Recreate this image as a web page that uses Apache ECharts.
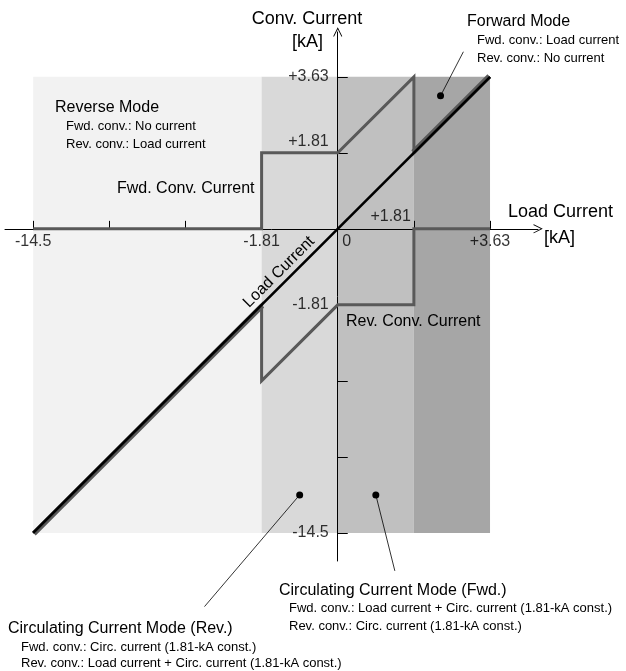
<!DOCTYPE html>
<html>
<head>
<meta charset="utf-8">
<script src="https://cdn.jsdelivr.net/npm/echarts@6/dist/echarts.min.js"></script>
<style>
  html, body { margin: 0; padding: 0; background: #fff; }
  #chart { width: 626px; height: 671px; }
</style>
</head>
<body>
<div id="chart"></div>
<script>
// Schematic scale: one axis step = 1.81 kA (the far end is an axis break labelled 14.5 kA).
const xTickValues = [-4, -3, -2, -1, 1, 2];
const yTickValues = [2, 1, -1, -2, -3, -4];
const xLabelValues = [-4, -1, 0, 1, 2];
const xLabelTexts = ['-14.5', '-1.81', '0', '+1.81', '+3.63'];
const yLabelValues = [2, 1, -1, -4];
const yLabelTexts = ['+3.63', '+1.81', '-1.81', '-14.5'];

// Operating-mode bands along the load-current axis (reverse, circ. rev, circ. fwd, forward)
const modeBandsX = [[-4, -1], [-1, 0], [0, 1], [1, 2]];
const modeBandY = [-4, 2];

// Currents, in axis steps
const loadCurrent = [[-4, -4], [2, 2]];
const fwdConvCurrent = [[-4, 0], [-1, 0], [-1, 1], [0, 1], [1, 2], [1, 1], [2, 2]];
const revConvCurrent = [[2, 0], [1, 0], [1, -1], [0, -1], [-1, -2], [-1, -1], [-4, -4]];

// Callout anchors: [dot, leader end]
const calloutForward = [[1.35, 1.75], [1.65, 2.33]];
const calloutCircRev = [[-0.5, -3.5], [-1.75, -4.97]];
const calloutCircFwd = [[0.5, -3.5], [0.75, -4.5]];

const FONT = 'Liberation Sans, Arial, Helvetica, sans-serif';
const bandColors = ['#f2f2f2', '#d9d9d9', '#c0c0c0', '#a6a6a6'];
const convColor = '#595959';
const arrowPath = 'path://M0,10 L5,0 L10,10 L9.2,10.6 L5,2.2 L0.8,10.6 Z';

const chart = echarts.init(document.getElementById('chart'), null, { renderer: 'canvas' });

function callout(anchor) {
  return {
    type: 'line',
    z: 6,
    clip: false,
    silent: true,
    lineStyle: { color: '#000', width: 0.8 },
    data: [
      { value: anchor[0], symbol: 'circle', symbolSize: 7, itemStyle: { color: '#000' } },
      { value: anchor[1], symbol: 'none' }
    ]
  };
}

// Tick-value labels placed at their axis positions
const baseLabel = { show: true, color: '#000', fontFamily: FONT, fontSize: 16 };
const xLabelData = xLabelValues.map((v, i) => {
  let label;
  if (v === 0) label = Object.assign({}, baseLabel, { position: 'bottom', distance: 5, offset: [9, 0] });
  else if (v === 1) label = Object.assign({}, baseLabel, { position: 'left', distance: 3, offset: [0, -12] });
  else label = Object.assign({}, baseLabel, { position: 'bottom', distance: 5 });
  label.formatter = xLabelTexts[i];
  return { value: [v, 0], label: label };
});
const yLabelData = yLabelValues.map((v, i) => {
  const label = Object.assign({}, baseLabel, { position: 'left', distance: 9 });
  if (v === 1) label.offset = [0, -11];
  label.formatter = yLabelTexts[i];
  return { value: [0, v], label: label };
});

const text = (t, left, cy, size, align) => ({
  type: 'text',
  x: left, y: cy,
  z: 20,
  style: { text: t, fill: '#000', font: size + 'px ' + FONT, verticalAlign: 'middle', align: align || 'left' }
});

chart.setOption({
  animation: false,
  backgroundColor: '#fff',
  grid: { left: 5, right: 88, top: 32, bottom: 110, containLabel: false, outerBoundsMode: 'none' },
  xAxis: {
    type: 'value', min: -4.37, max: 2.63, z: 1,
    splitLine: { show: false },
    axisLine: { onZero: true, lineStyle: { color: '#000', width: 1 },
      symbol: ['none', arrowPath], symbolSize: [9, 10] },
    axisTick: { show: true, inside: true, length: 8, customValues: xTickValues,
      lineStyle: { color: '#000', width: 1 } },
    axisLabel: { show: false }
  },
  yAxis: {
    type: 'value', min: -4.37, max: 2.59, z: 1,
    splitLine: { show: false },
    axisLine: { onZero: true, lineStyle: { color: '#000', width: 1 },
      symbol: ['none', arrowPath], symbolSize: [9, 10] },
    axisTick: { show: true, inside: true, length: 10, customValues: yTickValues,
      lineStyle: { color: '#000', width: 1 } },
    axisLabel: { show: false }
  },
  series: [
    {
      name: 'Mode bands',
      type: 'line', z: 0, data: [], silent: true,
      markArea: {
        silent: true,
        data: modeBandsX.map((b, i) => [
          { xAxis: b[0], yAxis: modeBandY[0], itemStyle: { color: bandColors[i], opacity: 1 } },
          { xAxis: b[1], yAxis: modeBandY[1] }
        ])
      }
    },
    {
      name: 'Fwd. Conv. Current',
      type: 'line', z: 3, symbol: 'none', silent: true,
      lineStyle: { color: convColor, width: 3, join: 'miter' },
      data: fwdConvCurrent
    },
    {
      name: 'Fwd. Conv. Current (along load)',
      type: 'line', z: 3, symbol: 'none', silent: true,
      lineStyle: { color: convColor, width: 3, shadowColor: convColor, shadowBlur: 0,
        shadowOffsetX: -1.5, shadowOffsetY: -1.5 },
      data: fwdConvCurrent.slice(5)
    },
    {
      name: 'Rev. Conv. Current',
      type: 'line', z: 3, symbol: 'none', silent: true,
      lineStyle: { color: convColor, width: 3, join: 'miter' },
      data: revConvCurrent
    },
    {
      name: 'Rev. Conv. Current (along load)',
      type: 'line', z: 3, symbol: 'none', silent: true,
      lineStyle: { color: convColor, width: 3, shadowColor: convColor, shadowBlur: 0,
        shadowOffsetX: 1.5, shadowOffsetY: 1.5 },
      data: revConvCurrent.slice(5)
    },
    {
      name: 'Load Current',
      type: 'line', z: 4, symbol: 'none', silent: true,
      lineStyle: { color: '#000', width: 2.6 },
      data: loadCurrent
    },
    {
      name: 'Load axis labels',
      type: 'scatter', z: 8, symbolSize: 0, silent: true, clip: false,
      data: xLabelData
    },
    {
      name: 'Conv axis labels',
      type: 'scatter', z: 8, symbolSize: 0, silent: true, clip: false,
      data: yLabelData
    },
    callout(calloutForward),
    callout(calloutCircRev),
    callout(calloutCircFwd)
  ],
  graphic: [
    text('Conv. Current', 307, 19, 18, 'center'),
    text('[kA]', 323, 42, 18, 'right'),
    text('Load Current', 508, 212, 18),
    text('[kA]', 544, 238, 18),

    text('Forward Mode', 467, 22, 16),
    text('Fwd. conv.: Load current', 477, 40, 13),
    text('Rev. conv.: No current', 477, 58, 13),

    text('Reverse Mode', 55, 108, 16),
    text('Fwd. conv.: No current', 66, 126, 13),
    text('Rev. conv.: Load current', 66, 144, 13),

    text('Fwd. Conv. Current', 117, 189, 16),
    text('Rev. Conv. Current', 346, 322, 16),

    {
      type: 'text', x: 279, y: 272, rotation: Math.PI / 4, z: 20,
      style: { text: 'Load Current', fill: '#000', font: '16px ' + FONT, align: 'center', verticalAlign: 'middle' }
    },

    text('Circulating Current Mode (Fwd.)', 279, 591, 16),
    text('Fwd. conv.: Load current + Circ. current (1.81-kA const.)', 289, 608, 13),
    text('Rev. conv.: Circ. current (1.81-kA const.)', 289, 626, 13),

    text('Circulating Current Mode (Rev.)', 8, 629, 16),
    text('Fwd. conv.: Circ. current (1.81-kA const.)', 21, 647, 13),
    text('Rev. conv.: Load current + Circ. current (1.81-kA const.)', 21, 663, 13)
  ]
});
</script>
</body>
</html>
